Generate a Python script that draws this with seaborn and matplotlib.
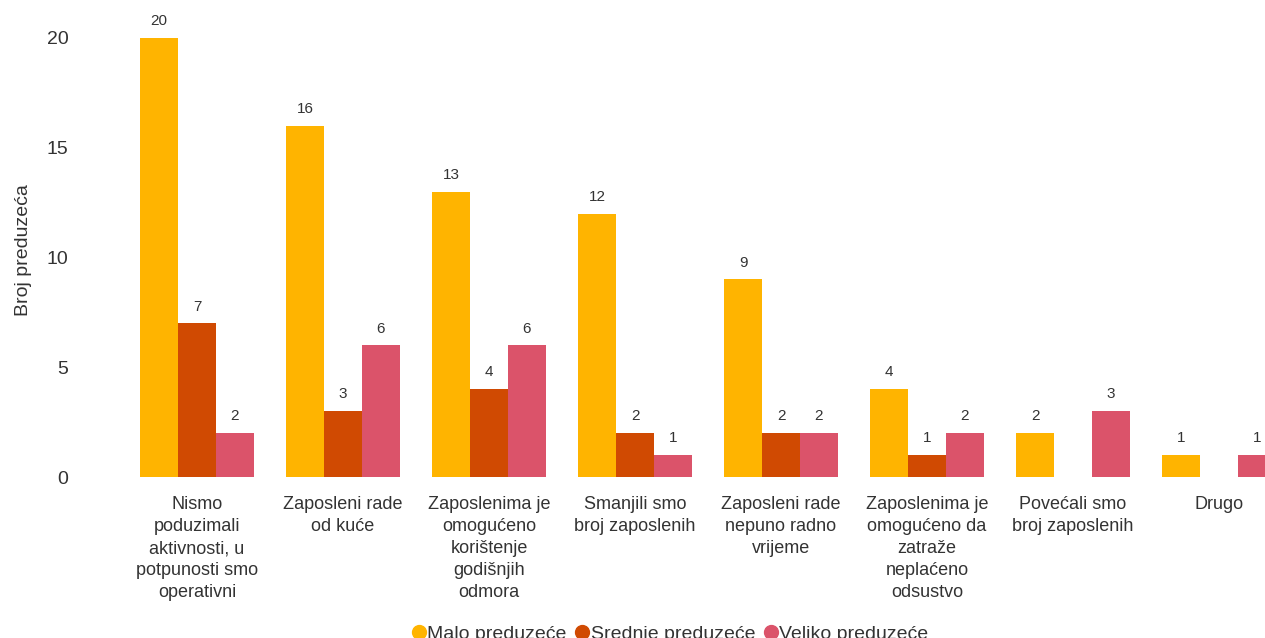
import pandas as pd
import matplotlib.pyplot as plt
import seaborn as sns
from matplotlib.lines import Line2D

categories = [
    "Nismo\npoduzimali\naktivnosti, u\npotpunosti smo\noperativni",
    "Zaposleni rade\nod kuće",
    "Zaposlenima je\nomogućeno\nkorištenje\ngodišnjih\nodmora",
    "Smanjili smo\nbroj zaposlenih",
    "Zaposleni rade\nnepuno radno\nvrijeme",
    "Zaposlenima je\nomogućeno da\nzatraže\nneplaćeno\nodsustvo",
    "Povećali smo\nbroj zaposlenih",
    "Drugo",
]
series = ["Malo preduzeće", "Srednje preduzeće", "Veliko preduzeće"]
malo = [20, 16, 13, 12, 9, 4, 2, 1]
srednje = [7, 3, 4, 2, 2, 1, 0, 0]
veliko = [2, 6, 6, 1, 2, 2, 3, 1]
colors = ["#FFB400", "#D04A02", "#DB536A"]

rows = []
for name, vals in zip(series, [malo, srednje, veliko]):
    for c, v in zip(categories, vals):
        rows.append({"kategorija": c, "tip": name, "broj": v})
df = pd.DataFrame(rows)

sns.set_style("white")
plt.rcParams["font.family"] = ["Liberation Sans", "DejaVu Sans"]

fig = plt.figure(figsize=(12.65, 6.38), dpi=100)
ax = fig.add_axes([124 / 1265, (638 - 477) / 638, (1265 - 124) / 1265, 467 / 638])

sns.barplot(data=df, x="kategorija", y="broj", hue="tip", palette=colors,
            width=0.78, saturation=1, linewidth=0, ax=ax, legend=False)

for cont in ax.containers:
    for bar in cont:
        h = bar.get_height()
        if h > 0:
            ax.annotate(f"{int(h)}", (bar.get_x() + bar.get_width() / 2, h),
                        xytext=(0, 7), textcoords="offset points",
                        ha="center", va="bottom", fontsize=11, color="#333333")

ax.set_xlim(-0.5, 7.315)
ax.set_ylim(0, 21.27)
ax.set_yticks([0, 5, 10, 15, 20])
ax.tick_params(axis="y", length=0, pad=40, labelsize=14, labelcolor="#333333")
ax.tick_params(axis="x", length=0, pad=14, labelsize=13, labelcolor="#333333")
for lbl in ax.get_xticklabels():
    lbl.set_linespacing(1.38)
ax.set_xlabel("")
ax.set_ylabel("Broj preduzeća", fontsize=14, color="#333333")
ax.yaxis.set_label_coords(-0.081, 0.486)
sns.despine(ax=ax, left=True, bottom=True)

handles = [Line2D([], [], marker="o", linestyle="", markersize=10,
                  markerfacecolor=c, markeredgecolor=c) for c in colors]
fig.legend(handles, series, loc="center", bbox_to_anchor=(670 / 1265, 4 / 638),
           ncol=3, frameon=False, fontsize=14, handlelength=0.75,
           handletextpad=0.05, columnspacing=0.45, borderpad=0.2,
           labelcolor="#333333")

fig.savefig("out.png", dpi=100)
